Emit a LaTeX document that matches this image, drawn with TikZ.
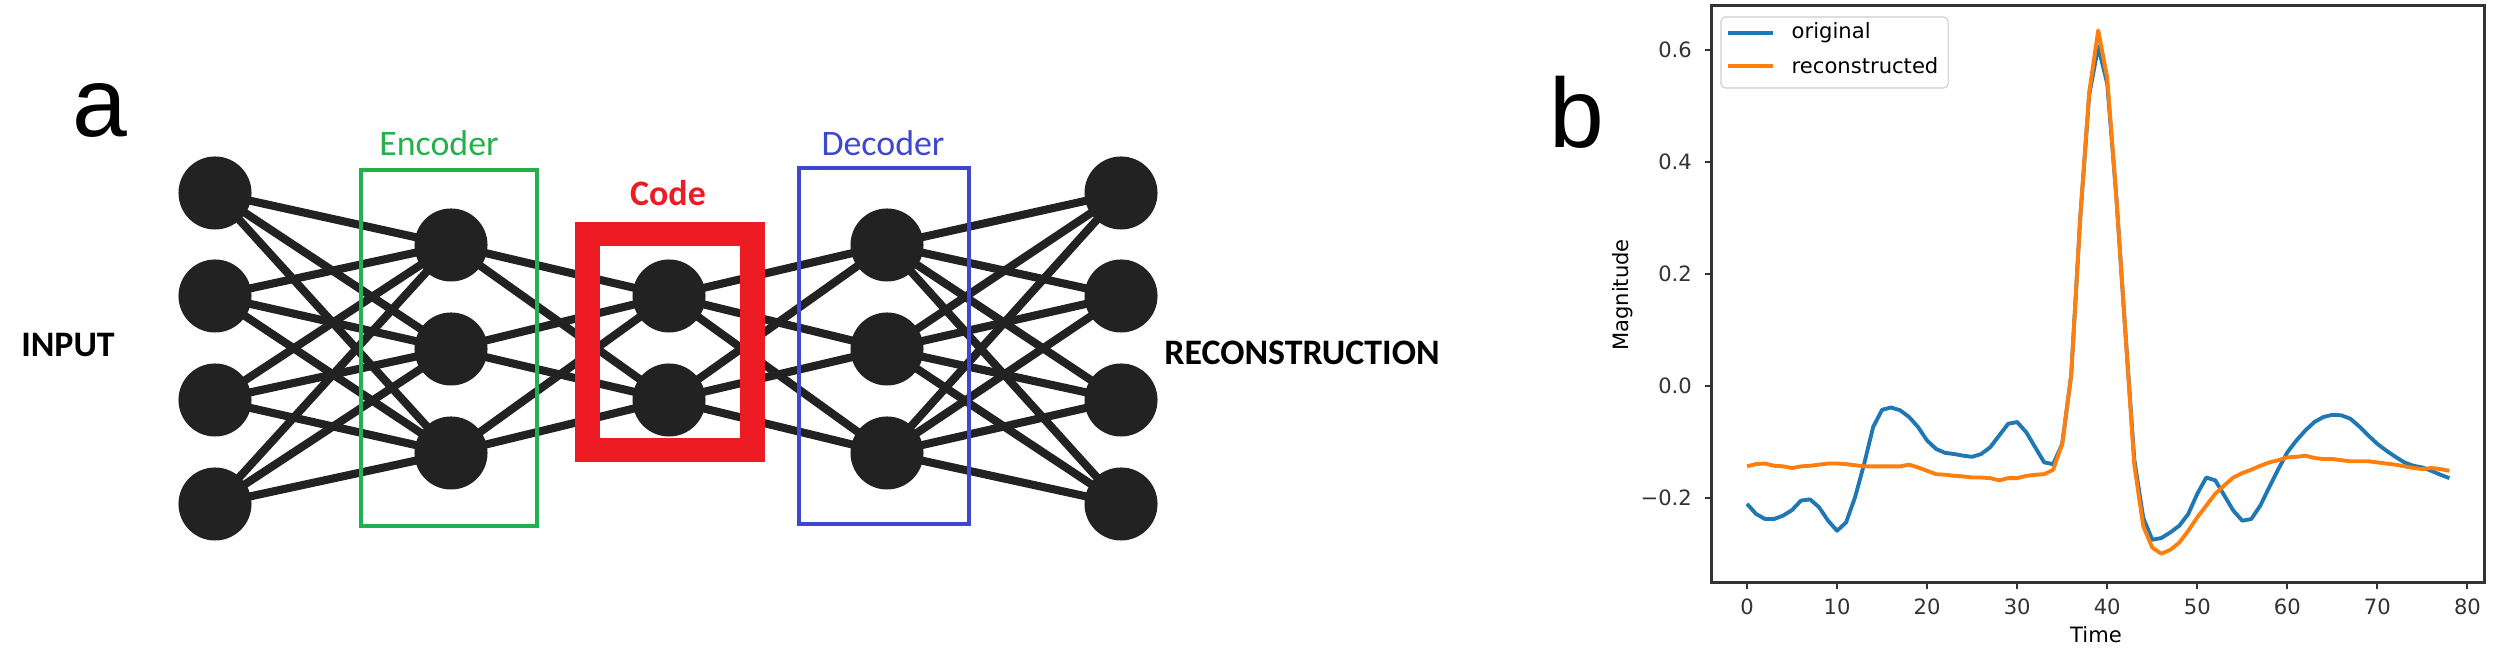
\documentclass[tikz,border=0pt]{standalone}
\usepackage{fontspec}
\setmainfont{Carlito}
\newfontfamily\plotfont{DejaVu Sans}
\newfontfamily\panelfont{Liberation Sans}
\usetikzlibrary{backgrounds}

\definecolor{encgreen}{HTML}{22B14C}
\definecolor{decblue}{HTML}{3F48CC}
\definecolor{codered}{HTML}{ED1C24}
\definecolor{unitgray}{HTML}{222222}
\definecolor{tabblue}{HTML}{1F77B4}
\definecolor{taborange}{HTML}{FF7F0E}

\tikzset{
  neuron/.style={circle, fill=unitgray, inner sep=0pt, minimum size=0.73cm},
  link/.style={unitgray, line width=2.3pt},
  lbl/.style={font=\fontsize{10.2}{12}\selectfont, inner sep=0pt},
  lblb/.style={font=\bfseries\fontsize{10.2}{12}\selectfont, inner sep=0pt},
  panel/.style={font=\panelfont\fontsize{28}{30}\selectfont, inner sep=0pt},
  ticklbl/.style={font=\plotfont\fontsize{6}{7}\selectfont, inner sep=0pt},
  curve/.style={line width=1.1pt, line join=round},
}

\begin{document}
\begin{tikzpicture}[x=0.01cm, y=-0.01cm]
\useasboundingbox (0,0) rectangle (2500,662);

% the units of the network
\foreach \y [count=\i] in {193,296,400,504} {
  \node[neuron] (in\i) at (215,\y) {};
  \node[neuron] (out\i) at (1121,\y) {};
}
\foreach \y [count=\i] in {245,349,453} {
  \node[neuron] (enc\i) at (451,\y) {};
  \node[neuron] (dec\i) at (887,\y) {};
}
\foreach \y [count=\i] in {296,400}
  \node[neuron] (code\i) at (669,\y) {};

% weights behind the units
\begin{pgfonlayer}{background}
  \foreach \i in {1,...,4} \foreach \j in {1,2,3} {
    \draw[link] (in\i.center) -- (enc\j.center);
    \draw[link] (dec\j.center) -- (out\i.center);
  }
  \foreach \i in {1,2,3} \foreach \j in {1,2} {
    \draw[link] (enc\i.center) -- (code\j.center);
    \draw[link] (code\j.center) -- (dec\i.center);
  }
\end{pgfonlayer}

% boxes round the layers
\node[draw=encgreen, line width=1pt, minimum width=1.76cm, minimum height=3.56cm] (encbox) at (449,348) {};
\node[draw=decblue, line width=1pt, minimum width=1.70cm, minimum height=3.56cm] (decbox) at (884,346) {};
\node[draw=codered, line width=7pt, minimum width=1.65cm, minimum height=2.16cm] (codebox) at (670,342) {};

% labels
\node[panel] (pa) at (100,111) {a};
\node[lbl, text=encgreen] (enclbl) at (439,143) {Encoder};
\node[lbl, text=decblue] (declbl) at (883,143) {Decoder};
\node[lblb, text=codered] (codelbl) at (668,193) {Code};
\node[lblb] (inlbl) at (68,345) {INPUT};
\node[lblb] (outlbl) at (1302,353) {RECONSTRUCTION};

% panel b: signal and its reconstruction
\node[panel] (pb) at (1577,112) {b};
\begin{scope}[shift={(17.46cm,-3.86cm)}, x=0.09cm, y=5.6cm]
  \draw[curve, tabblue] plot coordinates {(0,-0.210) (1,-0.228) (2,-0.237) (3,-0.237) (4,-0.231) (5,-0.221) (6,-0.204) (7,-0.202) (8,-0.216) (9,-0.240) (10,-0.258) (11,-0.243) (12,-0.198) (13,-0.139) (14,-0.073) (15,-0.042) (16,-0.038) (17,-0.043) (18,-0.055) (19,-0.073) (20,-0.097) (21,-0.112) (22,-0.119) (23,-0.121) (24,-0.124) (25,-0.126) (26,-0.121) (27,-0.109) (28,-0.088) (29,-0.067) (30,-0.064) (31,-0.082) (32,-0.109) (33,-0.136) (34,-0.139) (35,-0.103) (36,0.020) (37,0.300) (38,0.520) (39,0.606) (40,0.540) (41,0.340) (42,0.100) (43,-0.130) (44,-0.235) (45,-0.274) (46,-0.271) (47,-0.261) (48,-0.249) (49,-0.228) (50,-0.192) (51,-0.163) (52,-0.168) (53,-0.195) (54,-0.222) (55,-0.240) (56,-0.237) (57,-0.213) (58,-0.180) (59,-0.148) (60,-0.118) (61,-0.097) (62,-0.079) (63,-0.064) (64,-0.055) (65,-0.051) (66,-0.052) (67,-0.058) (68,-0.072) (69,-0.088) (70,-0.103) (71,-0.115) (72,-0.126) (73,-0.136) (74,-0.142) (75,-0.145) (76,-0.151) (77,-0.158) (78,-0.164)};
  \draw[curve, taborange] plot coordinates {(0,-0.143) (1,-0.139) (2,-0.138) (3,-0.142) (4,-0.143) (5,-0.146) (6,-0.143) (7,-0.142) (8,-0.140) (9,-0.138) (10,-0.138) (11,-0.139) (12,-0.141) (13,-0.143) (14,-0.143) (15,-0.143) (16,-0.143) (17,-0.143) (18,-0.140) (19,-0.145) (20,-0.151) (21,-0.157) (22,-0.158) (23,-0.160) (24,-0.161) (25,-0.163) (26,-0.163) (27,-0.164) (28,-0.168) (29,-0.164) (30,-0.164) (31,-0.160) (32,-0.158) (33,-0.157) (34,-0.149) (35,-0.103) (36,0.020) (37,0.300) (38,0.525) (39,0.635) (40,0.550) (41,0.340) (42,0.100) (43,-0.140) (44,-0.250) (45,-0.288) (46,-0.299) (47,-0.292) (48,-0.279) (49,-0.258) (50,-0.234) (51,-0.213) (52,-0.192) (53,-0.177) (54,-0.163) (55,-0.155) (56,-0.149) (57,-0.142) (58,-0.136) (59,-0.132) (60,-0.127) (61,-0.126) (62,-0.124) (63,-0.128) (64,-0.130) (65,-0.130) (66,-0.132) (67,-0.134) (68,-0.134) (69,-0.134) (70,-0.136) (71,-0.138) (72,-0.140) (73,-0.143) (74,-0.146) (75,-0.148) (76,-0.146) (77,-0.148) (78,-0.151)};
  % axes frame and ticks
  \draw[line width=0.85pt, black!80] (-3.9,-0.35) rectangle (81.9,0.679);
  \foreach \t in {0,10,...,80}
    \draw[line width=0.6pt, black!80] (\t,-0.35) -- ++(0,-2pt) node[ticklbl, anchor=north, yshift=-2.5pt] {\t};
  \foreach \v/\s in {-0.2/−0.2, 0.0/0.0, 0.2/0.2, 0.4/0.4, 0.6/0.6}
    \draw[line width=0.6pt, black!80] (-3.9,\v) -- ++(-2pt,0) node[ticklbl, anchor=east, xshift=-3.4pt] {\s};
\end{scope}
\node[ticklbl] (xlbl) at (2096,635) {Time};
\node[ticklbl, rotate=90] (ylbl) at (1623,295) {Magnitude};

% legend
\draw[rounded corners=1.2pt, draw=black!20, fill=white, line width=0.3pt] (1721,17) rectangle (1948,88);
\draw[curve, tabblue] (1728,33) -- (1773,33);
\draw[curve, taborange] (1728,66) -- (1773,66);
\node[ticklbl, anchor=west] (legorig) at (1791,33) {original};
\node[ticklbl, anchor=west] (legrec) at (1791,66) {reconstructed};
\end{tikzpicture}
\end{document}
